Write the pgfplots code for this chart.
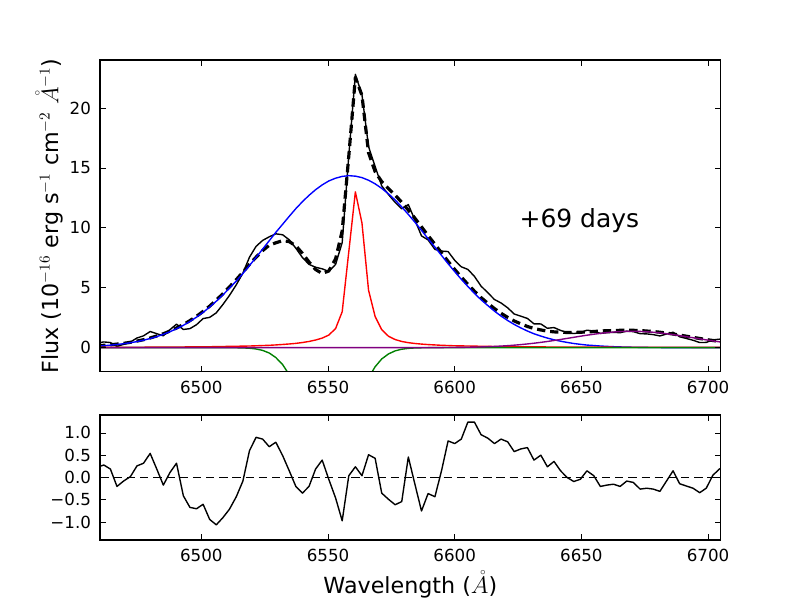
\documentclass[border=0pt]{standalone}
\usepackage[no-math]{fontspec}
\setmainfont{DejaVu Sans}
\usepackage{pgfplots}
\usepackage{pgfplotstable}
\pgfplotsset{compat=1.18}
\definecolor{mplgreen}{rgb}{0,0.5,0}
\definecolor{mplpurple}{rgb}{0.5,0,0.5}

\pgfplotstableread{
lam data model blue red green purple resid
6458.9 0.39 0.16 0.131 0.03 0 0 0.23
6461.5 0.48 0.20 0.167 0.03 0 0 0.28
6464.1 0.43 0.24 0.211 0.03 0 0 0.19
6466.7 0.10 0.30 0.266 0.03 0 0 -0.20
6469.3 0.28 0.36 0.333 0.03 0 0 -0.08
6472.0 0.47 0.45 0.413 0.04 0 0 0.02
6474.6 0.81 0.55 0.510 0.04 0 0 0.26
6477.2 0.99 0.67 0.627 0.04 0 0 0.32
6479.8 1.35 0.81 0.764 0.05 0 0 0.54
6482.4 1.17 0.98 0.925 0.05 0 0 0.19
6485.0 0.99 1.16 1.113 0.05 0 0 -0.17
6487.6 1.50 1.39 1.331 0.06 0 0 0.11
6490.2 1.96 1.64 1.580 0.06 0 0 0.32
6492.9 1.52 1.93 1.866 0.06 0 0 -0.41
6495.5 1.59 2.26 2.187 0.07 0 0 -0.67
6498.1 1.92 2.62 2.547 0.07 0 0 -0.70
6500.7 2.43 3.03 2.949 0.08 0 0 -0.60
6503.3 2.53 3.47 3.392 0.08 0 0 -0.94
6505.9 2.91 3.97 3.876 0.09 0 0 -1.06
6508.5 3.60 4.50 4.401 0.10 0 0 -0.90
6511.1 4.36 5.07 4.964 0.11 0 0 -0.71
6513.8 5.25 5.68 5.562 0.12 -0.007 0 -0.43
6516.4 6.22 6.30 6.192 0.13 -0.019 0 -0.08
6519.0 7.55 6.95 6.852 0.14 -0.046 0 0.60
6521.6 8.45 7.55 7.531 0.16 -0.106 0 0.90
6524.2 8.95 8.10 8.224 0.18 -0.224 0 0.86
6526.8 9.25 8.55 8.923 0.20 -0.444 0 0.69
6529.4 9.50 8.75 9.620 0.23 -0.822 0 0.79
6532.1 9.42 8.93 10.30 0.27 -1.412 0 0.49
6534.7 9.00 8.85 10.96 0.31 -2.26 0 0.15
6537.3 8.30 8.50 11.60 0.36 -3.37 0 -0.20
6539.9 7.52 7.87 12.18 0.43 -4.68 0 -0.35
6542.5 6.95 7.15 12.71 0.52 -6.06 0 -0.20
6545.1 6.71 6.52 13.18 0.64 -7.30 0 0.19
6547.7 6.58 6.19 13.58 0.80 -8.19 0 0.39
6550.3 6.36 6.40 13.91 1.05 -8.56 0 -0.04
6553.0 6.95 7.41 14.14 1.60 -8.33 0 -0.46
6555.6 8.77 9.74 14.29 3.00 -7.55 0 -0.97
6558.2 16.02 15.98 14.35 8.00 -6.37 0 0.04
6560.8 22.80 22.55 14.31 13.00 -5.00 0 0.24
6563.4 21.10 21.05 14.19 10.40 -3.67 0 0.04
6566.0 16.78 16.27 13.97 4.80 -2.50 0 0.51
6568.6 15.11 14.68 13.67 2.60 -1.59 0 0.43
6571.2 13.50 13.85 13.29 1.50 -0.939 0 -0.35
6573.9 12.77 13.26 12.83 0.95 -0.517 0 -0.49
6576.5 12.12 12.73 12.32 0.68 -0.265 0 -0.61
6579.1 11.59 12.13 11.74 0.52 -0.127 0 -0.54
6581.7 11.94 11.48 11.12 0.42 -0.056 0 0.46
6584.3 10.65 10.80 10.47 0.35 -0.023 0 -0.15
6586.9 9.33 10.08 9.79 0.30 -0.009 0 -0.75
6589.5 8.99 9.35 9.09 0.26 0 0 -0.36
6592.2 8.20 8.63 8.39 0.23 0 0.007 -0.43
6594.8 8.06 7.91 7.70 0.20 0 0.010 0.15
6597.4 8.02 7.20 7.01 0.18 0 0.014 0.82
6600.0 7.29 6.53 6.35 0.16 0 0.020 0.76
6602.6 6.75 5.89 5.71 0.15 0 0.027 0.86
6605.2 6.53 5.29 5.11 0.14 0 0.036 1.24
6607.8 5.95 4.71 4.53 0.13 0 0.048 1.24
6610.4 5.14 4.18 4.00 0.12 0 0.063 0.96
6613.1 4.58 3.70 3.51 0.11 0 0.082 0.88
6615.7 4.02 3.26 3.05 0.10 0 0.106 0.76
6618.3 3.73 2.87 2.64 0.09 0 0.135 0.86
6620.9 3.33 2.53 2.27 0.09 0 0.169 0.80
6623.5 2.81 2.23 1.94 0.08 0 0.210 0.58
6626.1 2.63 1.99 1.65 0.08 0 0.257 0.64
6628.7 2.44 1.77 1.39 0.07 0 0.312 0.67
6631.3 1.99 1.60 1.16 0.07 0 0.374 0.39
6634.0 1.98 1.48 0.97 0.07 0 0.444 0.50
6636.6 1.62 1.38 0.80 0.06 0 0.519 0.24
6639.2 1.68 1.32 0.66 0.06 0 0.601 0.36
6641.8 1.44 1.29 0.54 0.06 0 0.687 0.15
6644.4 1.27 1.27 0.44 0.05 0 0.776 0.00
6647.0 1.18 1.27 0.35 0.05 0 0.866 -0.09
6649.6 1.25 1.29 0.28 0.05 0 0.956 -0.04
6652.2 1.46 1.31 0.22 0.05 0 1.042 0.15
6654.9 1.39 1.35 0.18 0.05 0 1.123 0.04
6657.5 1.19 1.39 0.14 0.05 0 1.195 -0.20
6660.1 1.25 1.42 0.11 0.05 0 1.258 -0.17
6662.7 1.28 1.43 0.084 0.04 0 1.308 -0.15
6665.3 1.25 1.45 0.065 0.04 0 1.344 -0.20
6667.9 1.38 1.46 0.050 0.04 0 1.365 -0.08
6670.5 1.34 1.45 0.038 0.04 0 1.370 -0.11
6673.2 1.17 1.43 0.029 0.04 0 1.358 -0.26
6675.8 1.15 1.39 0.022 0.04 0 1.331 -0.24
6678.4 1.09 1.35 0.016 0.04 0 1.289 -0.26
6681.0 0.98 1.29 0.012 0.04 0 1.234 -0.31
6683.6 1.14 1.22 0.009 0.04 0 1.167 -0.08
6686.2 1.29 1.14 0.007 0.04 0 1.090 0.15
6688.8 0.91 1.05 0.005 0.04 0 1.007 -0.14
6691.4 0.77 0.96 0.004 0.04 0 0.919 -0.19
6694.1 0.62 0.86 0.003 0.03 0 0.829 -0.24
6696.7 0.43 0.77 0.002 0.03 0 0.739 -0.34
6699.3 0.44 0.68 0.002 0.03 0 0.651 -0.24
6701.9 0.65 0.60 0.001 0.03 0 0.566 0.05
6704.5 0.71 0.52 0.001 0.03 0 0.487 0.19
6707.1 0.70 0.45 0.001 0.03 0 0.415 0.25
}\spec

\pgfplotsset{
  mplaxis/.style={
    scale only axis,
    width=446.9pt,
    xmin=6460, xmax=6705,
    axis on top,
    tick align=inside,
    major tick length=4pt,
    tick style={black, line width=0.5pt},
    axis line style={line width=1pt},
    xtick={6500,6550,6600,6650,6700},
    xticklabels={6500,6550,6600,6650,6700},
    ticklabel style={font=\fontsize{12}{14}\selectfont},
    xticklabel style={yshift=-3pt},
    yticklabel style={xshift=-3pt},
    /pgf/number format/assume math mode=true,
    clip=true,
    every axis plot/.append style={line join=round},
  }
}

\begin{document}
\begin{tikzpicture}
\path[use as bounding box] (0,0) rectangle (576pt,432pt);

\begin{axis}[mplaxis,
  at={(72pt,164.4pt)}, anchor=south west,
  height=224.4pt,
  ymin=-2, ymax=24,
  ytick={0,5,10,15,20},
  yticklabels={0,5,10,15,20},
  ylabel={Flux (10$^{-16}$ erg s$^{-1}$ cm$^{-2}$ $\mathring{A}^{-1}$)},
  ylabel style={font=\fontsize{16}{19}\selectfont, at={(axis description cs:-0.0671,0.5)}, anchor=base},
]
\addplot[black, line width=1pt] table[x=lam, y=data] {\spec};
\addplot[black, line width=2.3pt, dash pattern=on 6pt off 3.5pt] table[x=lam, y=model] {\spec};
\addplot[blue, line width=1pt] table[x=lam, y=blue] {\spec};
\addplot[red, line width=1pt] table[x=lam, y=red] {\spec};
\addplot[mplgreen, line width=1pt] table[x=lam, y=green] {\spec};
\addplot[mplpurple, line width=1pt] table[x=lam, y=purple] {\spec};
\node[anchor=base west, font=\fontsize{18}{22}\selectfont, inner sep=0pt] at (axis cs:6625.5,10) {+69 days};
\end{axis}

\begin{axis}[mplaxis,
  at={(72pt,43.2pt)}, anchor=south west,
  height=90pt,
  ymin=-1.4, ymax=1.4,
  ytick={-1,-0.5,0,0.5,1},
  yticklabels={−1.0,−0.5,0.0,0.5,1.0},
  xlabel={Wavelength ($\mathring{A}$)},
  xlabel style={font=\fontsize{16}{19}\selectfont, at={(axis description cs:0.5,-0.43)}, anchor=base},
]
\addplot[black, line width=1pt] table[x=lam, y=resid] {\spec};
\addplot[black, line width=1pt, dash pattern=on 6pt off 3.5pt] coordinates {(6455,0) (6710,0)};
\end{axis}
\end{tikzpicture}
\end{document}
